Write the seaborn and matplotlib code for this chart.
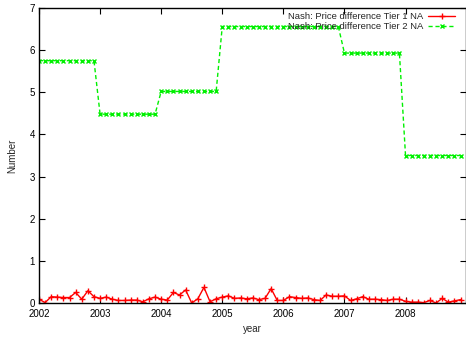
import numpy as np
import pandas as pd
import matplotlib
matplotlib.use("Agg")
import matplotlib.pyplot as plt
import seaborn as sns

# ---- data ----
years = [2002, 2003, 2004, 2005, 2006, 2007, 2008]
points_per_year = 10
tier1 = [0.09, 0.01, 0.15, 0.14, 0.13, 0.13, 0.25, 0.09, 0.29, 0.15,
         0.11, 0.14, 0.09, 0.06, 0.06, 0.07, 0.07, 0.03, 0.10, 0.14,
         0.09, 0.07, 0.25, 0.19, 0.31, 0.00, 0.10, 0.37, 0.03, 0.10,
         0.14, 0.17, 0.11, 0.12, 0.10, 0.12, 0.08, 0.11, 0.34, 0.06,
         0.06, 0.15, 0.13, 0.11, 0.12, 0.08, 0.06, 0.19, 0.16, 0.16,
         0.17, 0.06, 0.10, 0.15, 0.09, 0.09, 0.08, 0.06, 0.09, 0.09,
         0.04, 0.02, 0.02, 0.01, 0.06, 0.00, 0.11, 0.02, 0.05, 0.08]
tier2_yearly = [5.75, 4.48, 5.02, 6.56, 6.56, 5.93, 3.50]
label1 = "Nash: Price difference Tier 1 NA"
label2 = "Nash: Price difference Tier 2 NA"
xticks = [2002, 2003, 2004, 2005, 2006, 2007, 2008]
yticks = [0, 1, 2, 3, 4, 5, 6, 7]

t = [y + k / points_per_year for y in years for k in range(points_per_year)]
tier2 = [v for v in tier2_yearly for _ in range(points_per_year)]
df1 = pd.DataFrame({"year": t, "value": tier1})
df2 = pd.DataFrame({"year": t, "value": tier2})

# ---- style ----
sns.set_style("ticks")
plt.rcParams['font.family'] = ['Liberation Sans', 'DejaVu Sans']

red = "#ff0000"
green = "#00f000"

fig = plt.figure(figsize=(4.66, 3.39), dpi=100)
ax = fig.add_axes([39 / 466, 1 - 303 / 339, 1 - 39 / 466, (303 - 8) / 339])

sns.lineplot(data=df1, x="year", y="value", ax=ax, color=red,
             linewidth=1.0, marker="+", markersize=5, markeredgewidth=1.0,
             markeredgecolor=red, markerfacecolor=red, label=label1)
sns.lineplot(data=df2, x="year", y="value", ax=ax, color=green,
             linewidth=1.0, linestyle=(0, (3, 2)), marker="x", markersize=3.5,
             markeredgewidth=1.0, markeredgecolor=green,
             markerfacecolor=green, label=label2)

ax.set_xlim(2002, 2008.99)
ax.set_ylim(0, 7)
ax.set_xticks(xticks)
ax.set_yticks(yticks)
ax.tick_params(direction="in", length=4, width=0.8, top=True, right=True,
               labelsize=7, pad=3, colors="black")
ax.tick_params(axis="x", pad=4)
for s in ax.spines.values():
    s.set_linewidth(1.0)
    s.set_color("black")

ax.set_xlabel("year", fontsize=7, labelpad=4)
ax.set_ylabel("Number", fontsize=7, labelpad=9)

leg = ax.legend(loc="upper right", frameon=False, markerfirst=False,
                fontsize=6.8, handlelength=2.8, handletextpad=0.5,
                borderaxespad=0.2, labelspacing=0.12,
                bbox_to_anchor=(0.987, 1.005))

fig.savefig("out.png", dpi=100)
